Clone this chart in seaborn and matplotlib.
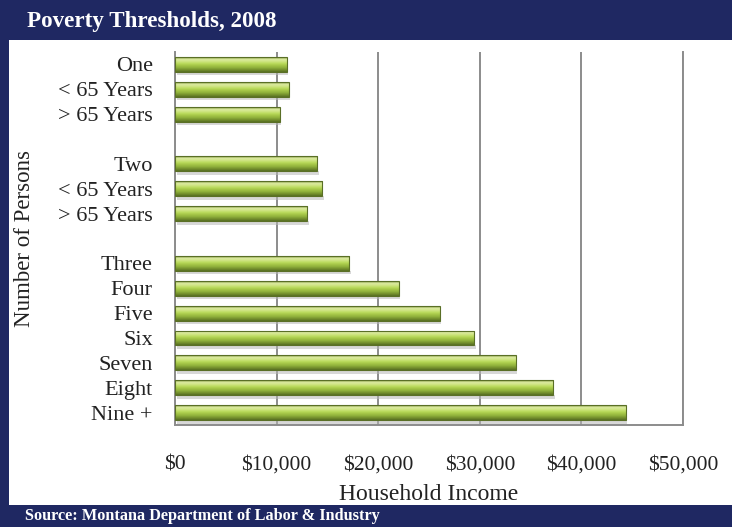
import numpy as np
import pandas as pd
import matplotlib
matplotlib.use("Agg")
import matplotlib.pyplot as plt
from matplotlib.patches import Rectangle
from matplotlib.colors import LinearSegmentedColormap
import seaborn as sns

# Poverty thresholds by household size (blank rows separate the groups)
row_labels = ["One", "< 65 Years", "> 65 Years", "",
              "Two", "< 65 Years", "> 65 Years", "",
              "Three", "Four", "Five", "Six", "Seven", "Eight", "Nine +"]
thresholds = [10991, 11201, 10326, None,
              13991, 14480, 13014, None,
              17163, 22025, 26049, 29456, 33529, 37220, 44346]

tick_values = [0, 10000, 20000, 30000, 40000, 50000]
tick_labels = ["$0", "$10,000", "$20,000", "$30,000", "$40,000", "$50,000"]

title = "Poverty Thresholds, 2008"
source = "Source: Montana Department of Labor & Industry"

NAVY = "#1f2862"
GRID = "#8c8c8c"

sns.set_theme(style="white")
plt.rcParams["font.family"] = ["Liberation Serif", "DejaVu Serif"]

row_keys = [f"row{i}" for i in range(len(row_labels))]
df = pd.DataFrame({"key": row_keys, "income": thresholds}).dropna()

fig = plt.figure(figsize=(7.32, 5.27), dpi=100)
fig.patch.set_facecolor("white")

# Frame: header bar, footer bar and left border
fig.add_artist(Rectangle((0, 487 / 527), 1, 40 / 527, transform=fig.transFigure,
                         facecolor=NAVY, edgecolor="none", zorder=0))
fig.add_artist(Rectangle((0, 0), 1, 22 / 527, transform=fig.transFigure,
                         facecolor=NAVY, edgecolor="none", zorder=0))
fig.add_artist(Rectangle((0, 0), 9 / 732, 1, transform=fig.transFigure,
                         facecolor=NAVY, edgecolor="none", zorder=0))

ax = fig.add_axes([175 / 732, 102 / 527, 508 / 732, 373 / 527])

sns.barplot(data=df, x="income", y="key", order=row_keys, orient="h",
            width=0.6, color="#9bbb59", errorbar=None, ax=ax, zorder=3)

xlim = (0, 50000)
ylim = (len(row_keys) - 0.5, -0.5)

# Cylinder-like shading for each bar
bar_cmap = LinearSegmentedColormap.from_list(
    "bar", ["#7a9436", "#dceaa2", "#d0e584", "#badb5c", "#a4c546",
            "#8fb03b", "#74902d", "#586f22"])
grad = np.linspace(0, 1, 64).reshape(-1, 1)
for patch in list(ax.patches):
    x0, y0 = patch.get_x(), patch.get_y()
    w, h = patch.get_width(), patch.get_height()
    if not np.isfinite(w) or w <= 0:
        continue
    # soft shadow under the bar
    ax.add_patch(Rectangle((x0 + 150, y0 + h), w, 0.14, facecolor="#b8b8b8",
                           edgecolor="none", alpha=0.55, zorder=2))
    patch.set_facecolor("none")
    patch.set_edgecolor("#5a6f26")
    patch.set_linewidth(0.8)
    patch.set_zorder(4)
    im = ax.imshow(grad, cmap=bar_cmap, aspect="auto",
                   extent=[x0, x0 + w, y0 + h, y0], zorder=3,
                   interpolation="bilinear")
    im.set_clip_path(patch)

ax.set_xlim(*xlim)
ax.set_ylim(*ylim)

ax.set_xticks(tick_values)
ax.set_xticklabels(tick_labels)
ax.set_yticks(range(len(row_labels)))
ax.set_yticklabels(row_labels)
ax.tick_params(axis="x", length=0, pad=22, labelsize=15.5, colors="#222222")
ax.tick_params(axis="y", length=0, pad=16, labelsize=16, colors="#222222")

ax.xaxis.grid(True, color=GRID, linewidth=1.4)
ax.yaxis.grid(False)
ax.set_axisbelow(True)
for side in ["left", "bottom", "right"]:
    ax.spines[side].set_visible(True)
    ax.spines[side].set_color(GRID)
    ax.spines[side].set_linewidth(1.4)
ax.spines["top"].set_visible(False)

ax.set_xlabel("Household Income", fontsize=17, color="#222222", labelpad=7)
ax.set_ylabel("")
fig.text(25 / 732, 0.547, "Number of Persons", rotation=90, ha="center",
         va="center", fontsize=16.5, color="#222222")

fig.text(27 / 732, 1 - 22 / 527, title, color="white", fontsize=16.6,
         fontweight="bold", ha="left", va="center")
fig.text(25 / 732, 11 / 527, source, color="white", fontsize=11.7,
         fontweight="bold", ha="left", va="center")

fig.savefig("out.png", dpi=100, facecolor=fig.get_facecolor())
